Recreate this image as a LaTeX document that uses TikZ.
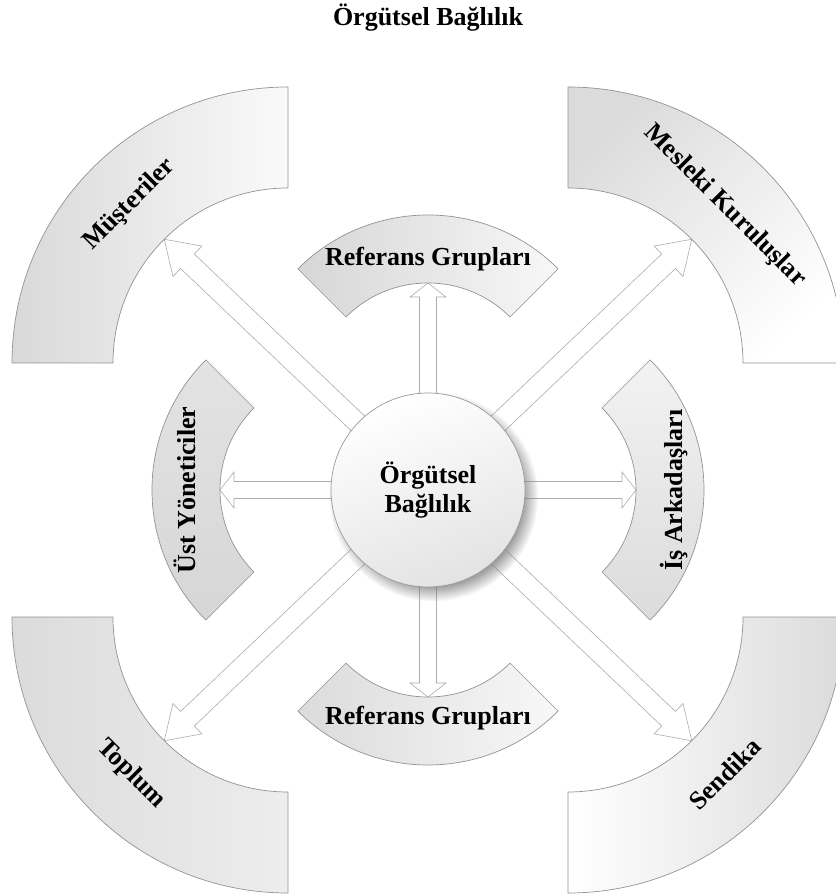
\documentclass[tikz,border=0pt]{standalone}
\usepackage{fontspec}
\setmainfont{Liberation Serif}
\usepackage{tikz}
\usetikzlibrary{positioning,calc,shadows,backgrounds}

\tikzset{
  band/.style={draw=gray!85, line width=0.7pt},
  arw/.style={draw=gray!65, fill=white, line width=0.6pt},
  lbl/.style={font=\fontsize{26}{29}\selectfont\bfseries, inner sep=0pt, on grid},
  core/.style={circle, draw=gray!80, line width=0.7pt, minimum size=194pt, inner sep=0pt,
    align=center, font=\fontsize{26}{29}\selectfont\bfseries,
    top color=white, bottom color=gray!22, shading angle=20,
    circular drop shadow={shadow xshift=5pt, shadow yshift=-6pt, shadow scale=1.08, opacity=0.75}},
}

% block arc: centre, from, to, inner radius, outer radius, shading
\newcommand\blockarc[6]{%
  \path[band,#6] ($(#1)+(#2:#5)$) arc[start angle=#2, end angle=#3, radius=#5]
    -- ($(#1)+(#3:#4)$) arc[start angle=#3, end angle=#2, radius=#4] -- cycle;}

% hollow arrow: from, to, half shaft, half head, head length
\newcommand\hollowarrow[5]{%
  \filldraw[arw] ($(#1)!#3!90:(#2)$)
    -- ($(#2)!#5!(#1)!#3!-90:(#1)$)
    -- ($(#2)!#5!(#1)!#4!-90:(#1)$)
    -- (#2)
    -- ($(#2)!#5!(#1)!#4!90:(#1)$)
    -- ($(#2)!#5!(#1)!#3!90:(#1)$)
    -- ($(#1)!#3!-90:(#2)$) -- cycle;}

\begin{document}
\begin{tikzpicture}[x=1pt,y=1pt]
  \useasboundingbox (-428,-406) rectangle (407,490);
  \clip (-428,-406) rectangle (407,490);

  \node[core] (core) at (0,0) {Örgütsel\\Bağlılık};

  % centres of the bands
  \coordinate (cMus) at (-140,127);
  \coordinate (cMes) at (140,127);
  \coordinate (cTop) at (-140,-127);
  \coordinate (cSen) at (140,-127);
  \coordinate (cRefN) at (0,91);
  \coordinate (cRefS) at (0,-91);
  \coordinate (cUst) at (-92,0);
  \coordinate (cIs) at (92,0);

  % arrow tips
  \coordinate (tMus) at ($(cMus)+(135:175)$);
  \coordinate (tMes) at ($(cMes)+(45:175)$);
  \coordinate (tTop) at ($(cTop)+(225:175)$);
  \coordinate (tSen) at ($(cSen)+(-45:175)$);
  \coordinate (tRefN) at ($(cRefN)+(90:116)$);
  \coordinate (tRefS) at ($(cRefS)+(-90:116)$);
  \coordinate (tUst) at ($(cUst)+(180:116)$);
  \coordinate (tIs) at ($(cIs)+(0:116)$);

  \begin{scope}[on background layer]
    \hollowarrow{core.center}{tRefN}{8.5pt}{18pt}{14pt}
    \hollowarrow{core.center}{tRefS}{8.5pt}{18pt}{14pt}
    \hollowarrow{core.center}{tUst}{8.5pt}{18pt}{14pt}
    \hollowarrow{core.center}{tIs}{8.5pt}{18pt}{14pt}
    \hollowarrow{core.center}{tMus}{10pt}{21pt}{32pt}
    \hollowarrow{core.center}{tMes}{10pt}{21pt}{32pt}
    \hollowarrow{core.center}{tTop}{10pt}{21pt}{32pt}
    \hollowarrow{core.center}{tSen}{10pt}{21pt}{32pt}

    \blockarc{cMus}{90}{180}{175pt}{276pt}{left color=gray!30, right color=gray!4}
    \blockarc{cMes}{0}{90}{175pt}{276pt}{top color=gray!28, bottom color=white, shading angle=45}
    \blockarc{cTop}{180}{270}{175pt}{276pt}{left color=gray!28, right color=gray!14}
    \blockarc{cSen}{270}{360}{175pt}{276pt}{left color=white, right color=gray!28}
    \blockarc{cRefN}{45}{135}{116pt}{184pt}{left color=gray!32, right color=gray!6}
    \blockarc{cRefS}{225}{315}{116pt}{184pt}{left color=gray!28, right color=gray!6}
    \blockarc{cUst}{135}{225}{116pt}{184pt}{top color=gray!22, bottom color=gray!32}
    \blockarc{cIs}{-45}{45}{116pt}{184pt}{top color=gray!10, bottom color=gray!28}
  \end{scope}

  \node[lbl, above of=core, node distance=472pt] (title) {Örgütsel Bağlılık};
  \node[lbl, above of=core, node distance=231pt] (lRefN) {Referans Grupları};
  \node[lbl, below of=core, node distance=228pt] (lRefS) {Referans Grupları};
  \node[lbl, left of=core, node distance=243pt, rotate=90] (lUst) {Üst Yöneticiler};
  \node[lbl, right of=core, node distance=246pt, rotate=90] (lIs) {İş Arkadaşları};
  \node[lbl, rotate=45] (lMus) at ($(cMus)+(135:224)$) {Müşteriler};
  \node[lbl, rotate=-45] (lMes) at ($(cMes)+(45:222)$) {Mesleki Kuruluşlar};
  \node[lbl, rotate=-45] (lTop) at ($(cTop)+(225:222)$) {Toplum};
  \node[lbl, rotate=45] (lSen) at ($(cSen)+(-45:222)$) {Sendika};
\end{tikzpicture}
\end{document}
